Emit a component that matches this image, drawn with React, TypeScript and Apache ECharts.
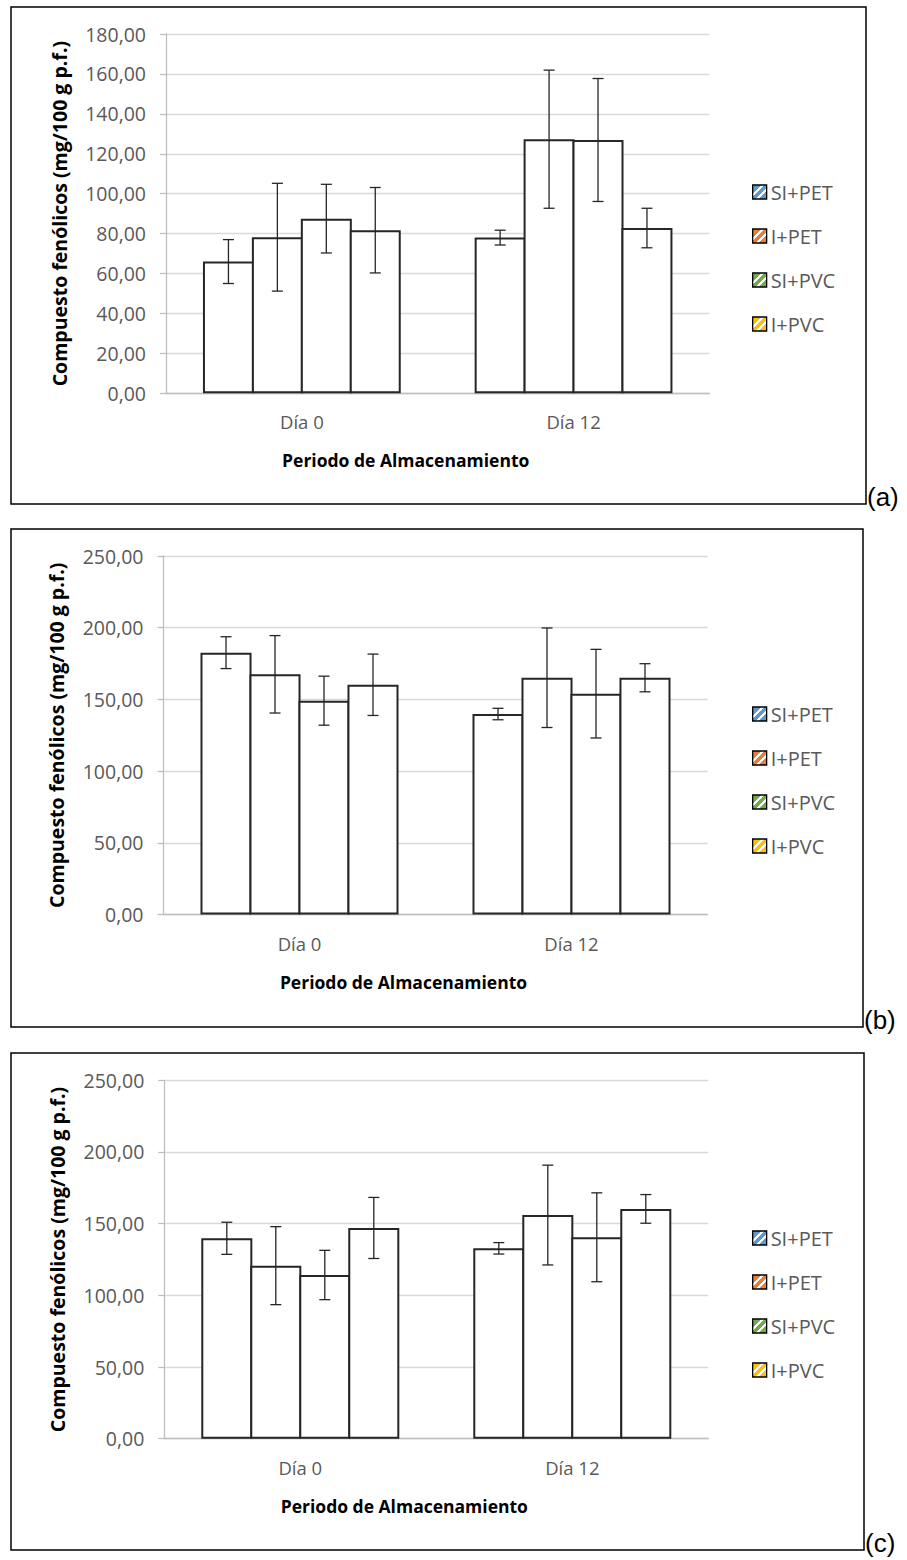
import React, { useEffect, useRef } from "react";
import * as echarts from "echarts";

const categories = ["Día 0", "Día 12"];
const seriesNames = ["SI+PET", "I+PET", "SI+PVC", "I+PVC"];
const legendColors = ["#5b9bd5", "#ed7d31", "#70ad47", "#ffc000"];
const panelTags = ["(a)", "(b)", "(c)"];

// means per series: [Día 0, Día 12]
const meansA = [[66.0, 78.0], [78.2, 127.3], [87.5, 126.9], [81.7, 82.8]];
const sdA = [[11.0, 3.7], [27.0, 34.6], [17.2, 30.8], [21.4, 9.9]];
const meansB = [[182.6, 139.8], [167.5, 165.1], [149.1, 154.0], [160.2, 165.1]];
const sdB = [[11.1, 4.0], [27.0, 34.7], [17.1, 30.9], [21.4, 9.8]];
const meansC = [[139.8, 132.8], [120.7, 156.0], [114.2, 140.5], [147.0, 160.3]];
const sdC = [[11.2, 4.0], [27.2, 34.8], [17.2, 31.0], [21.3, 10.0]];
const yMaxes = [180, 250, 250];
const yIntervals = [20, 50, 50];

const W = 907;
const H = 1560;
const GAP = 0.272;
const BGAP = -0.04;

const layouts = [
  { grid: { left: 166, top: 34, width: 543.4, height: 359.3 }, box: [11, 7, 866, 504], legendTop: 177 },
  { grid: { left: 163.5, top: 556, width: 544, height: 358.5 }, box: [11, 529, 863, 1027], legendTop: 699 },
  { grid: { left: 164.3, top: 1080.3, width: 544, height: 358.4 }, box: [11, 1053, 864, 1550], legendTop: 1223 },
];

const FONT = "Open Sans";
const GRAY = "#595959";
const BAR_LINE = "#262626";

function stripes(c: string) {
  return {
    type: "linear", x: 0, y: 0, x2: 1, y2: 1,
    colorStops: [
      { offset: 0, color: c }, { offset: 0.3, color: c },
      { offset: 0.3, color: "#ffffff" }, { offset: 0.42, color: "#ffffff" },
      { offset: 0.42, color: c }, { offset: 0.6, color: c },
      { offset: 0.6, color: "#ffffff" }, { offset: 0.72, color: "#ffffff" },
      { offset: 0.72, color: c }, { offset: 1, color: c },
    ],
  };
}

function buildOption() {
  const allMeans = [meansA, meansB, meansC];
  const allSds = [sdA, sdB, sdC];
  const grids: any[] = [];
  const xAxes: any[] = [];
  const yAxes: any[] = [];
  const series: any[] = [];
  const legends: any[] = [];
  const graphics: any[] = [];

  layouts.forEach((L, p) => {
    grids.push({ ...L.grid, containLabel: false });
    xAxes.push({
      type: "category",
      gridIndex: p,
      data: categories,
      axisLine: { show: true, lineStyle: { color: "#bfbfbf", width: 1.3 } },
      axisTick: { show: false },
      axisLabel: { fontFamily: FONT, fontSize: 18.5, color: GRAY, margin: 19 },
    });
    yAxes.push({
      type: "value",
      gridIndex: p,
      min: 0,
      max: yMaxes[p],
      interval: yIntervals[p],
      name: "Compuesto fenólicos (mg/100 g p.f.)",
      nameLocation: "middle",
      nameGap: 97,
      nameTextStyle: { fontFamily: FONT, fontWeight: "bold", fontSize: 19.5, color: "#000" },
      axisLine: { show: true, lineStyle: { color: "#bfbfbf", width: 1.3 } },
      axisTick: { show: true, length: 6, lineStyle: { color: "#bfbfbf", width: 1.3 } },
      splitLine: { show: true, lineStyle: { color: "#d9d9d9", width: 1.3 } },
      axisLabel: {
        fontFamily: FONT, fontSize: 19.5, color: GRAY, margin: 20,
        formatter: (v: number) => v.toFixed(2).replace(".", ","),
      },
    });
    const means = allMeans[p];
    const sds = allSds[p];
    seriesNames.forEach((name, si) => {
      series.push({
        type: "bar",
        name,
        xAxisIndex: p,
        yAxisIndex: p,
        data: means[si],
        barGap: BGAP * 100 + "%",
        barCategoryGap: GAP * 100 + "%",
        itemStyle: { color: "#ffffff", borderColor: BAR_LINE, borderWidth: 2 },
        emphasis: { disabled: true },
      });
    });
    const errData: number[][] = [];
    seriesNames.forEach((_, si) => {
      categories.forEach((_, ci) => {
        const m = means[si][ci];
        const s = sds[si][ci];
        errData.push([ci, m - s, m + s, si]);
      });
    });
    series.push({
      type: "custom",
      name: "err" + p,
      xAxisIndex: p,
      yAxisIndex: p,
      data: errData,
      z: 5,
      silent: true,
      encode: { x: 0, y: [1, 2] },
      renderItem: (params: any, api: any) => {
        const ci = api.value(0);
        const lo = api.value(1);
        const hi = api.value(2);
        const si = api.value(3);
        const band = api.size([1, 0])[0];
        const bw = (band * (1 - GAP)) / (4 + 3 * BGAP);
        const cx = api.coord([ci, 0])[0] + (si - 1.5) * bw * (1 + BGAP);
        const yLo = api.coord([ci, lo])[1];
        const yHi = api.coord([ci, hi])[1];
        const hw = 5.5;
        const st = { stroke: BAR_LINE, lineWidth: 1.3 };
        return {
          type: "group",
          children: [
            { type: "line", shape: { x1: cx, y1: yLo, x2: cx, y2: yHi }, style: st },
            { type: "line", shape: { x1: cx - hw, y1: yLo, x2: cx + hw, y2: yLo }, style: st },
            { type: "line", shape: { x1: cx - hw, y1: yHi, x2: cx + hw, y2: yHi }, style: st },
          ],
        };
      },
    });
    legends.push({
      orient: "vertical",
      left: 747,
      top: L.legendTop,
      itemWidth: 14,
      itemHeight: 14,
      itemGap: 24,
      icon: "rect",
      selectedMode: false,
      textStyle: { fontFamily: FONT, fontSize: 20, color: GRAY, lineHeight: 20, padding: [0, 0, 0, -1] },
      data: seriesNames.map((n, i) => ({
        name: n,
        itemStyle: { color: stripes(legendColors[i]), borderColor: "#000", borderWidth: 1.3 },
      })),
    });
    const [x1, y1, x2, y2] = L.box;
    graphics.push({
      type: "rect",
      shape: { x: x1, y: y1, width: x2 - x1, height: y2 - y1 },
      style: { fill: "none", stroke: "#000", lineWidth: 1.5 },
      z: 0,
    });
    graphics.push({
      type: "text",
      x: L.grid.left + L.grid.width / 2 - 32,
      y: L.grid.top + L.grid.height + 58,
      style: {
        text: "Periodo de Almacenamiento",
        fontFamily: FONT,
        fontWeight: "bold",
        fontSize: 17.5,
        fill: "#000",
        align: "center",
        verticalAlign: "top",
      },
    });
    graphics.push({
      type: "text",
      x: x2 + 1,
      y: y2 - 7,
      style: {
        text: panelTags[p],
        fontFamily: "Liberation Sans",
        fontSize: 26,
        fill: "#000",
        verticalAlign: "middle",
        align: "left",
      },
    });
  });

  return {
    animation: false,
    backgroundColor: "#ffffff",
    grid: grids,
    xAxis: xAxes,
    yAxis: yAxes,
    legend: legends,
    series,
    graphic: graphics,
  };
}

export default function App() {
  const ref = useRef<HTMLDivElement>(null);
  useEffect(() => {
    document.body.style.margin = "0";
    const chart = echarts.init(ref.current!, null, { renderer: "svg", width: W, height: H });
    chart.setOption(buildOption() as any);
    return () => chart.dispose();
  }, []);
  return <div ref={ref} style={{ width: W, height: H, position: "absolute", left: 0, top: 0 }} />;
}
